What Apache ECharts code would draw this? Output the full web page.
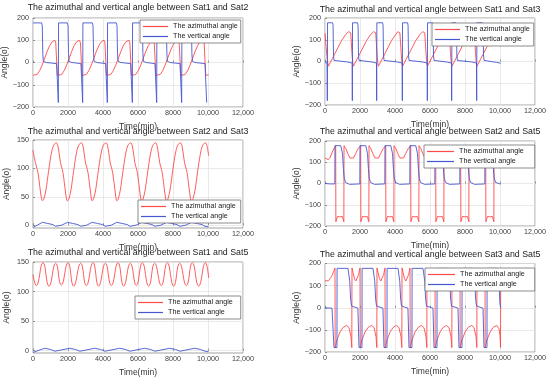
<!DOCTYPE html>
<html><head><meta charset="utf-8">
<script src="https://cdn.jsdelivr.net/npm/echarts@6/dist/echarts.min.js"></script>
<style>html,body{margin:0;padding:0;background:#fff}#c{width:550px;height:377px}</style>
</head><body><div id="c"></div>
<script>
// ---------- data ----------
const titles = [
  'The azimuthal and vertical angle between Sat1 and Sat2',
  'The azimuthal and vertical angle between Sat1 and Sat3',
  'The azimuthal and vertical angle between Sat2 and Sat3',
  'The azimuthal and vertical angle between Sat2 and Sat5',
  'The azimuthal and vertical angle between Sat1 and Sat5',
  'The azimuthal and vertical angle between Sat3 and Sat5'
];
const seriesNames = ['The azimuthal angle', 'The vertical angle'];
const xTicks = [0, 2000, 4000, 6000, 8000, 10000, 12000];
const yTicksWide = [-200, -100, 0, 100, 200];
const yTicksNarrow = [0, 50, 100, 150];

// Sat1-Sat2
const az12 = [[0,-57],[90,-60],[235,-54],[380,-37],[525,-11],[670,20],[815,51],[960,77],[1105,94],[1250,100],[1300,88],[1390,-58],
[1490,-60],[1635,-54],[1780,-37],[1925,-11],[2070,20],[2215,51],[2360,77],[2505,94],[2660,100],[2710,88],[2800,-58],
[2900,-60],[3045,-54],[3190,-37],[3335,-11],[3480,20],[3625,51],[3770,77],[3915,94],[4060,100],[4110,88],[4200,-58],
[4300,-60],[4445,-54],[4590,-37],[4735,-11],[4880,20],[5025,51],[5170,77],[5315,94],[5485,100],[5535,88],[5625,-58],
[5725,-60],[5870,-54],[6015,-37],[6160,-11],[6305,20],[6450,51],[6595,77],[6740,94],[6880,100],[6930,88],[7020,-58],
[7120,-60],[7265,-54],[7410,-37],[7555,-11],[7700,20],[7845,51],[7990,77],[8135,94],[8305,100],[8355,88],[8445,-58],
[8545,-60],[8690,-54],[8835,-37],[8980,-11],[9125,20],[9270,51],[9415,77],[9560,94],[9730,100],[9780,88],[9870,-58],
[9970,-60],[10040,-55]];
const vt12 = [[0,178],[490,178],[530,165],[560,40],[590,5],[750,0],[1350,-5],[1437,-8],
[1447,-180],[1460,178],[1960,178],[2000,165],[2030,40],[2060,5],[2220,0],[2740,-5],[2828,-8],
[2838,-180],[2850,178],[3390,178],[3430,165],[3460,40],[3490,5],[3650,0],[4150,-5],[4238,-8],
[4248,-180],[4260,178],[4760,178],[4800,165],[4830,40],[4860,5],[5020,0],[5580,-5],[5666,-8],
[5676,-180],[5690,178],[6210,178],[6250,165],[6280,40],[6310,5],[6470,0],[6970,-5],[7057,-8],
[7067,-180],[7080,178],[7580,178],[7620,165],[7650,40],[7680,5],[7840,0],[8400,-5],[8485,-8],
[8495,-180],[8510,178],[9010,178],[9050,165],[9080,40],[9110,5],[9270,0],[9830,-5],[9914,-8],[9924,-180]];

// Sat1-Sat3
const az13 = [[0,130],[60,70],[130,10],[190,-22],
[290,-14],[570,37],[950,97],[1190,125],[1350,137],[1430,140],[1470,132],[1540,40],[1580,0],[1620,-22],
[1720,-14],[2000,37],[2380,97],[2620,125],[2778,137],[2858,140],[2898,132],[2968,40],[3008,0],[3048,-22],
[3148,-14],[3428,37],[3808,97],[4048,125],[4160,137],[4240,140],[4280,132],[4350,40],[4390,0],[4430,-22],
[4530,-14],[4810,37],[5190,97],[5430,125],[5580,137],[5660,140],[5700,132],[5770,40],[5810,0],[5850,-22],
[5950,-14],[6230,37],[6610,97],[6850,125],[6980,137],[7060,140],[7100,132],[7170,40],[7210,0],[7250,-22],
[7350,-14],[7630,37],[8010,97],[8250,125],[8410,137],[8490,140],[8530,132],[8600,40],[8640,0],[8680,-22],
[8780,-14],[9060,37],[9440,97],[9680,125],[9900,137],[10050,140]];
const vt13 = [[0,-5],[120,-7],[133,-180],[145,178],[436,178],[461,165],[486,30],[516,5],[626,3],[1262,-2],[1552,-7],
[1562,-180],[1574,178],[1865,178],[1890,165],[1915,30],[1945,5],[2055,3],[2652,-2],[2942,-7],
[2952,-180],[2964,178],[3293,178],[3318,165],[3343,30],[3373,5],[3483,3],[4119,-2],[4409,-7],
[4419,-180],[4431,178],[4722,178],[4747,165],[4772,30],[4802,5],[4912,3],[5548,-2],[5838,-7],
[5848,-180],[5860,178],[6150,178],[6175,165],[6200,30],[6230,5],[6340,3],[6938,-2],[7228,-7],
[7238,-180],[7250,178],[7484,178],[7509,165],[7534,30],[7564,5],[7674,3],[8367,-2],[8657,-7],
[8667,-180],[8679,178],[9008,178],[9033,165],[9058,30],[9088,5],[9198,3],[9800,-4],[10050,-8]];

// Sat2-Sat3
const az23 = [[0,132],[90,117],[190,104],[290,92],[380,70],[470,50],[540,43],
[620,46],[740,62],[890,95],[1040,125],[1180,141],[1340,145],
[1420,140],[1500,125],[1570,110],[1640,102],[1710,93],[1790,75],[1870,55],[1930,44],[1970,43],
[2050,46],[2170,62],[2320,95],[2470,125],[2610,141],[2770,145],
[2850,140],[2930,125],[3000,110],[3070,102],[3140,93],[3220,75],[3300,55],[3350,44],[3380,43],
[3460,46],[3580,62],[3730,95],[3880,125],[4020,141],[4180,145],
[4260,140],[4340,125],[4410,110],[4480,102],[4550,93],[4630,75],[4710,55],[4760,44],[4790,43],
[4870,46],[4990,62],[5140,95],[5290,125],[5430,141],[5590,145],
[5670,140],[5750,125],[5820,110],[5890,102],[5960,93],[6040,75],[6120,55],[6180,44],[6210,43],
[6290,46],[6410,62],[6560,95],[6710,125],[6850,141],[7010,145],
[7090,140],[7170,125],[7240,110],[7310,102],[7380,93],[7460,75],[7540,55],[7600,44],[7630,43],
[7710,46],[7830,62],[7980,95],[8130,125],[8270,141],[8430,145],
[8510,140],[8590,125],[8660,110],[8730,102],[8800,93],[8880,75],[8960,55],[9020,44],[9060,43],
[9140,46],[9260,62],[9410,95],[9560,125],[9700,141],[9860,145],
[9940,140],[10040,122]];
const vt23 = [[0,-4],[540,5],[840,3],[1140,1],[1290,-2],[1340,-4],[1640,0],[1970,5],[2270,3],[2570,1],[2720,-2],[2770,-4],
[3070,0],[3380,5],[3680,3],[3980,1],[4130,-2],[4180,-4],[4480,0],[4790,5],[5090,3],[5390,1],[5540,-2],[5590,-4],
[5890,0],[6210,5],[6510,3],[6810,1],[6960,-2],[7010,-4],[7310,0],[7630,5],[7930,3],[8230,1],[8380,-2],[8430,-4],
[8730,0],[9060,5],[9360,3],[9660,1],[9810,-2],[9860,-4],[10040,-3]];

// Sat2-Sat5
const az25 = [[0,120],[90,114],[190,112],[300,124],[420,148],[530,168],[611,178],
[621,-180],[711,-155],[791,-150],[851,-157],[911,-150],[991,-155],[1077,-180],
[1087,178],[1187,165],[1307,140],[1427,120],[1527,115],[1627,120],[1747,140],[1887,163],[2040,178],
[2050,-180],[2140,-155],[2220,-150],[2280,-157],[2340,-150],[2420,-155],[2506,-180],
[2516,178],[2616,165],[2736,140],[2856,120],[2956,115],[3056,120],[3176,140],[3316,163],[3469,178],
[3479,-180],[3569,-155],[3649,-150],[3709,-157],[3769,-150],[3849,-155],[3935,-180],
[3945,178],[4045,165],[4165,140],[4285,120],[4385,115],[4485,120],[4605,140],[4745,163],[4897,178],
[4907,-180],[4997,-155],[5077,-150],[5137,-157],[5197,-150],[5277,-155],[5363,-180],
[5373,178],[5473,165],[5593,140],[5713,120],[5813,115],[5913,120],[6033,140],[6173,163],[6326,178],
[6336,-180],[6426,-155],[6506,-150],[6566,-157],[6626,-150],[6706,-155],[6792,-180],
[6802,178],[6902,165],[7022,140],[7142,120],[7242,115],[7342,120],[7462,140],[7602,163],[7754,178],
[7764,-180],[7854,-155],[7934,-150],[7994,-157],[8054,-150],[8134,-155],[8220,-180],
[8230,178],[8330,165],[8450,140],[8570,120],[8670,115],[8770,120],[8890,140],[9030,163],[9183,178],
[9193,-180],[9283,-155],[9363,-150],[9423,-157],[9483,-150],[9563,-155],[9649,-180],
[9659,178],[9759,165],[9879,140],[10040,120]];
const vt25 = [[0,0],[300,-2],[561,-2],[571,178],[901,178],[951,172],[1001,140],[1051,70],[1101,25],[1171,5],[1251,-2],[1401,-4],[1990,-2],
[2000,178],[2330,178],[2380,172],[2430,140],[2480,70],[2530,25],[2600,5],[2680,-2],[2830,-4],[3419,-2],
[3429,178],[3759,178],[3809,172],[3859,140],[3909,70],[3959,25],[4029,5],[4109,-2],[4259,-4],[4847,-2],
[4857,178],[5187,178],[5237,172],[5287,140],[5337,70],[5387,25],[5457,5],[5537,-2],[5687,-4],[6276,-2],
[6286,178],[6616,178],[6666,172],[6716,140],[6766,70],[6816,25],[6886,5],[6966,-2],[7116,-4],[7704,-2],
[7714,178],[8044,178],[8094,172],[8144,140],[8194,70],[8244,25],[8314,5],[8394,-2],[8544,-4],[9133,-2],
[9143,178],[9473,178],[9523,172],[9573,140],[9623,70],[9673,25],[9743,5],[9823,-2],[10040,-3]];

// Sat1-Sat5
const az15 = [[0,129],[190,110],[571,149],[914,109],[1295,148],[1619,111],[2000,149],[2324,109],[2724,148],[3048,110],
[3429,149],[3752,109],[4134,148],[4476,110],[4857,149],[5181,109],[5562,148],[5905,110],[6248,149],[6610,109],
[6953,148],[7333,110],[7676,149],[8038,109],[8381,148],[8762,110],[9105,149],[9467,109],[9848,149],[10040,123]];
const vt15 = [[0,-3],[100,-2],[667,4],[1000,2],[1250,-1],[1333,-3],[2095,4],[2430,2],[2680,-1],[2762,-3],
[3524,4],[3860,2],[4110,-1],[4190,-3],[4952,4],[5290,2],[5540,-1],[5619,-3],[6381,4],[6720,2],[6970,-1],[7048,-3],
[7810,4],[8150,2],[8400,-1],[8476,-3],[9238,4],[9570,2],[9830,-1],[9905,-3],[10040,-2]];

// Sat3-Sat5
const az35 = [[0,122],[100,120],[200,122],[300,130],[400,145],[500,165],[571,180],
[581,-180],[666,-150],[857,-110],[1047,-88],[1238,-80],[1371,-90],[1485,-130],[1532,-180],[1542,180],
[1602,160],[1682,132],[1762,121],[1842,128],[1922,150],[2000,180],
[2010,-180],[2095,-150],[2286,-110],[2476,-88],[2667,-80],[2800,-90],[2914,-130],[2961,-180],[2971,180],
[3031,160],[3111,132],[3191,121],[3271,128],[3351,150],[3429,180],
[3439,-180],[3524,-150],[3715,-110],[3905,-88],[4096,-80],[4229,-90],[4343,-130],[4390,-180],[4400,180],
[4460,160],[4540,132],[4620,121],[4700,128],[4780,150],[4857,180],
[4867,-180],[4952,-150],[5143,-110],[5333,-88],[5524,-80],[5657,-90],[5771,-130],[5818,-180],[5828,180],
[5888,160],[5968,132],[6048,121],[6128,128],[6208,150],[6286,180],
[6296,-180],[6381,-150],[6572,-110],[6762,-88],[6953,-80],[7086,-90],[7200,-130],[7247,-180],[7257,180],
[7317,160],[7397,132],[7477,121],[7557,128],[7637,150],[7714,180],
[7724,-180],[7809,-150],[8000,-110],[8190,-88],[8381,-80],[8514,-90],[8628,-130],[8675,-180],[8685,180],
[8745,160],[8825,132],[8905,121],[8985,128],[9065,150],[9143,180],
[9153,-180],[9238,-150],[9429,-110],[9619,-88],[9810,-80],[9943,-95],[10000,-125],[10030,-180],[10040,180]];
const vt35 = [[0,0],[400,-2],[480,-6],[514,-180],[684,-180],[690,178],[1314,178],[1364,170],[1414,120],[1464,40],[1514,8],[1574,0],[1880,-2],[1915,-6],
[1943,-180],[2113,-180],[2119,178],[2743,178],[2793,170],[2843,120],[2893,40],[2943,8],[3003,0],[3310,-2],[3345,-6],
[3372,-180],[3542,-180],[3548,178],[4172,178],[4222,170],[4272,120],[4322,40],[4372,8],[4432,0],[4740,-2],[4775,-6],
[4800,-180],[4970,-180],[4976,178],[5600,178],[5650,170],[5700,120],[5750,40],[5800,8],[5860,0],[6170,-2],[6205,-6],
[6229,-180],[6399,-180],[6405,178],[7029,178],[7079,170],[7129,120],[7179,40],[7229,8],[7289,0],[7600,-2],[7632,-6],
[7657,-180],[7827,-180],[7833,178],[8457,178],[8507,170],[8557,120],[8607,40],[8657,8],[8717,0],[9030,-2],[9060,-6],
[9086,-180],[9256,-180],[9262,178],[9886,178],[9936,170],[9960,100],[9990,20],[10040,0]];

// ---------- layout ----------
const panels = [
  {grid:{left:33,top:18,width:210,height:89}, tx:138, ty:3, lg:{left:140,top:20,pad:[2,3,2,3],iw:25}, az:az12, vt:vt12, wide:true, smooth:false},
  {grid:{left:325,top:18,width:210,height:87}, tx:430, ty:5, lg:{left:432,top:23,pad:[2,4,2,3],iw:25}, az:az13, vt:vt13, wide:true, smooth:false},
  {grid:{left:33,top:140,width:210,height:88}, tx:138, ty:127, lg:{left:138,top:200,pad:[2,5,2,3],iw:25}, az:az23, vt:vt23, wide:false, min:-5, smooth:0.3},
  {grid:{left:325,top:141,width:210,height:85}, tx:430, ty:127, lg:{left:424,top:145,pad:[2,11,2,3],iw:27}, az:az25, vt:vt25, wide:true, smooth:false},
  {grid:{left:33,top:262,width:210,height:91}, tx:138, ty:248, lg:{left:135,top:296,pad:[2,8,2,3],iw:25}, az:az15, vt:vt15, wide:false, min:-4, smooth:0.5},
  {grid:{left:325,top:263.5,width:210,height:88.5}, tx:430, ty:250, lg:{left:425,top:268,pad:[2,10,2,3],iw:27}, az:az35, vt:vt35, wide:true, smooth:false}
];

const RED = '#ff4a4a', BLUE = '#4657d2';
const FONT = "'Liberation Sans', Arial, sans-serif";
const fmtX = v => v >= 10000 ? String(v).replace(/(\d+)(\d{3})$/, '$1,$2') : String(v);
const fmtY = v => String(v).replace('-', '\u2212');

const option = {
  animation: false,
  backgroundColor: '#fff',
  textStyle: {fontFamily: FONT},
  title: [], grid: [], xAxis: [], yAxis: [], legend: [], series: []
};

panels.forEach((p, i) => {
  option.title.push({text: titles[i], left: p.tx, top: p.ty, textAlign: 'center', padding: 0,
    textStyle: {fontSize: 8.8, fontWeight: 'normal', color: '#1a1a1a', fontFamily: FONT}});
  option.grid.push(Object.assign({show: true, borderColor: '#8a8a8a', borderWidth: 0.8, backgroundColor: '#fff',
    containLabel: false, outerBoundsMode: 'none'}, p.grid));
  option.xAxis.push({type: 'value', gridIndex: i, min: 0, max: 12000, interval: 2000,
    name: 'Time(min)', nameLocation: 'middle', nameGap: 15,
    nameTextStyle: {fontSize: 8.5, color: '#333', fontFamily: FONT},
    axisLine: {show: false},
    axisTick: {show: true, inside: true, length: 2, lineStyle: {color: '#777', width: 0.8}},
    axisLabel: {fontSize: 7.2, color: '#404040', margin: 3, formatter: fmtX, fontFamily: FONT},
    splitLine: {show: true, lineStyle: {color: '#e3e3e3', width: 0.8}}});
  const y = {type: 'value', gridIndex: i,
    name: 'Angle(o)', nameLocation: 'middle', nameGap: 22,
    nameTextStyle: {fontSize: 8.5, color: '#333', fontFamily: FONT},
    axisLine: {show: false},
    axisTick: {show: true, inside: true, length: 2, lineStyle: {color: '#777', width: 0.8}},
    axisLabel: {fontSize: 7.2, color: '#404040', margin: 4, formatter: fmtY, fontFamily: FONT},
    splitLine: {show: true, lineStyle: {color: '#e3e3e3', width: 0.8}}};
  if (p.wide) {
    y.min = yTicksWide[0]; y.max = yTicksWide[yTicksWide.length - 1]; y.interval = 100;
  } else {
    y.min = p.min; y.max = yTicksNarrow[yTicksNarrow.length - 1];
    y.axisLabel.customValues = yTicksNarrow;
    y.axisTick.customValues = yTicksNarrow;
  }
  option.yAxis.push(y);
  option.legend.push({show: true, orient: 'vertical', left: p.lg.left, top: p.lg.top, padding: p.lg.pad,
    itemGap: 1, itemWidth: p.lg.iw, itemHeight: 1.2, icon: 'rect',
    backgroundColor: '#fff', borderColor: '#6e6e6e', borderWidth: 0.8, borderRadius: 0,
    textStyle: {fontSize: 7.2, lineHeight: 9, color: '#1a1a1a', fontFamily: FONT},
    data: seriesNames, selectedMode: false, z: 10});
  option.series.push({name: seriesNames[0], type: 'line', xAxisIndex: i, yAxisIndex: i, data: p.az,
    showSymbol: false, symbol: 'none', smooth: p.smooth, lineStyle: {color: RED, width: 0.9}, itemStyle: {color: RED}});
  option.series.push({name: seriesNames[1], type: 'line', xAxisIndex: i, yAxisIndex: i, data: p.vt,
    showSymbol: false, symbol: 'none', lineStyle: {color: BLUE, width: 0.9}, itemStyle: {color: BLUE}});
});

const chart = echarts.init(document.getElementById('c'), null, {renderer: 'canvas'});
chart.setOption(option);
</script>
</body></html>
